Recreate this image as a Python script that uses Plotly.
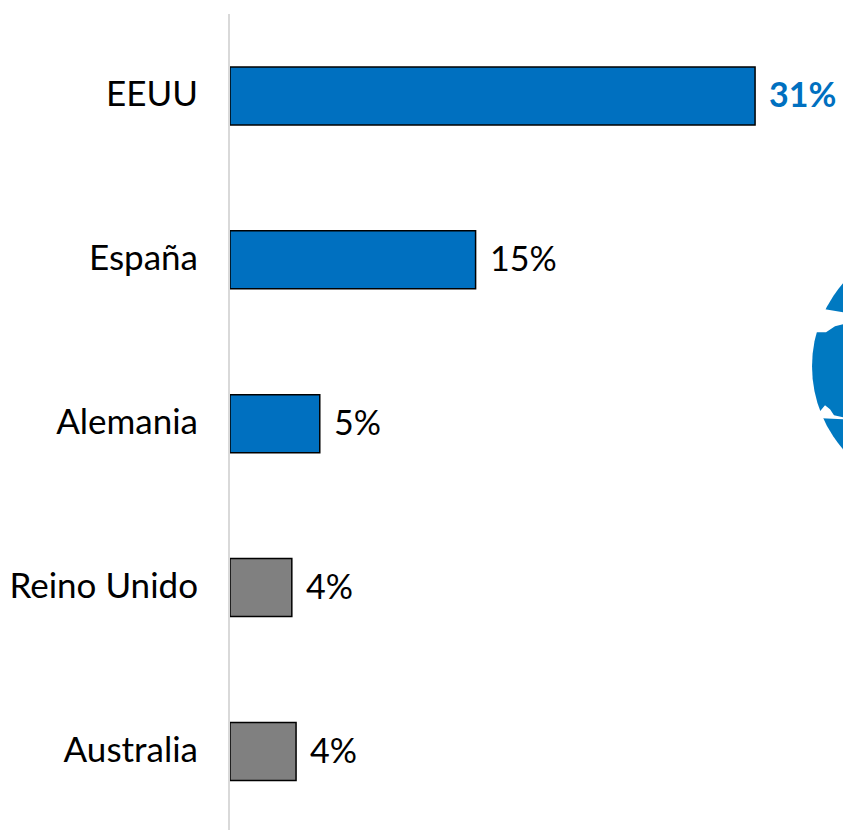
import plotly.graph_objects as go

categories = ["EEUU", "España", "Alemania", "Reino Unido", "Australia"]
values = [31.0, 14.5, 5.3, 3.65, 3.9]
labels = ["31%", "15%", "5%", "4%", "4%"]
bar_colors = ["#0070C0", "#0070C0", "#0070C0", "#808080", "#808080"]
label_colors = ["#0070C0", "#000000", "#000000", "#000000", "#000000"]
label_weights = ["bold", "normal", "normal", "normal", "normal"]

FONT = "Lato"
W, H = 843, 830
LEFT, TOP = 229.5, 13.5

fig = go.Figure(go.Bar(
    y=categories, x=values, orientation="h",
    marker=dict(color=bar_colors, line=dict(color="#000000", width=1.5)),
    hoverinfo="skip",
))

for c, v, t, col, wt in zip(categories, values, labels, label_colors, label_weights):
    fig.add_annotation(x=v, y=c, text=f"<b>{t}</b>" if wt == "bold" else t,
                       showarrow=False, xanchor="left", yanchor="middle", xshift=12, yshift=2,
                       font=dict(family=FONT, size=34, color=col))

def px(x): return (x - LEFT) / (W - LEFT)
def py(y): return 1 - (y - TOP) / (H - TOP)

# decorative globe at the right edge
cx, cy, r = 938.6, 366, 126.6
fig.add_shape(type="circle", xref="paper", yref="paper",
              x0=px(cx - r), x1=px(cx + r), y0=py(cy + r), y1=py(cy - r),
              fillcolor="#0079C1", line_width=0, layer="below")
white_gap_1 = [(825, 309), (843, 312), (843, 324), (835, 326), (826, 332), (815, 332), (805, 325)]
white_gap_2 = [(805, 414), (820, 411), (825, 405), (830, 409), (834, 415), (843, 417), (843, 419), (822, 418)]
for gap in (white_gap_1, white_gap_2):
    path = "M " + " L ".join(f"{px(x)} {py(y)}" for x, y in gap) + " Z"
    fig.add_shape(type="path", xref="paper", yref="paper", path=path,
                  fillcolor="#FFFFFF", line_width=0, layer="below")

fig.update_layout(
    width=W, height=H,
    margin=dict(l=LEFT, r=0, t=TOP, b=0, pad=0),
    paper_bgcolor="#FFFFFF", plot_bgcolor="rgba(0,0,0,0)",
    bargap=0.646, showlegend=False,
    font=dict(family=FONT, size=34, color="#000000"),
    xaxis=dict(range=[0, (W - LEFT) / (525.5 / 31)], visible=False, fixedrange=True),
    yaxis=dict(
        categoryorder="array", categoryarray=categories,
        range=[4.479, -0.5], showgrid=False, zeroline=False,
        showline=True, linecolor="#D9D9D9", linewidth=2, ticks="",
        ticklabelstandoff=23, ticklabelshift=2,
        tickfont=dict(family=FONT, size=35, color="#000000"),
        fixedrange=True,
    ),
)
fig.write_html("out.html", config={"displayModeBar": False},
               post_script="document.body.style.margin='0';document.documentElement.style.overflow='hidden';")
